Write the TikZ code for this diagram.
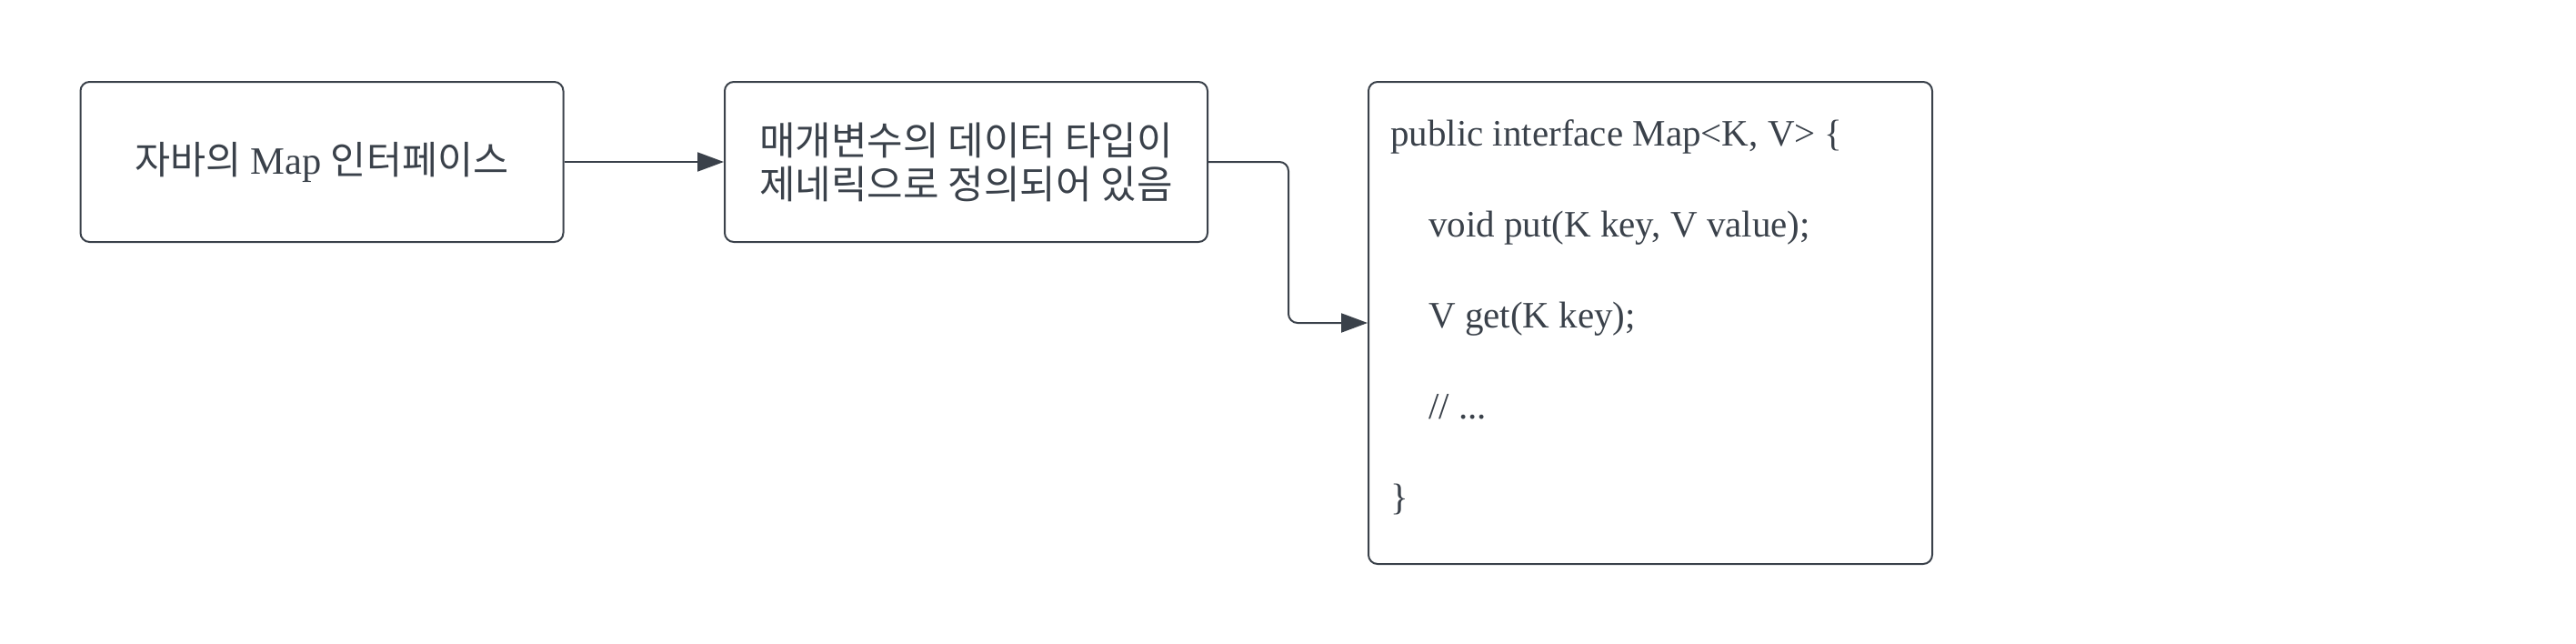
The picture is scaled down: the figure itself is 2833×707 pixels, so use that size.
\documentclass[tikz,border=0pt]{standalone}
\usepackage{fontspec}
\setmainfont{Liberation Serif}
\newfontfamily\kr{Noto Sans CJK KR}
\usetikzlibrary{arrows.meta}
\definecolor{ink}{HTML}{3A414A}
\tikzset{
  box/.style={draw=ink, line width=2pt, rounded corners=10pt, minimum width=#1, inner sep=0pt},
  conn/.style={draw=ink, line width=2pt, -{Triangle[length=29pt,width=21pt]}},
  code/.style={anchor=base west, inner sep=0pt, text=ink, font=\fontsize{41}{48}\selectfont}
}
\begin{document}
\begin{tikzpicture}[x=1pt,y=-1pt]
\useasboundingbox (0,0) rectangle (2833,707);
\node[box=531pt, minimum height=176pt, text=ink, font=\fontsize{42.5}{48}\selectfont] (b1) at (354,178) {\kr 자바의 \rmfamily Map \kr 인터페이스};
\node[box=531pt, minimum height=176pt, text=ink, align=center, font=\fontsize{43}{48}\selectfont\kr] (b2) at (1062.5,178) {매개변수의 데이터 타입이\\제네릭으로 정의되어 있음};
\node[box=620pt, minimum height=530pt] (b3) at (1815,355) {};
\node[code] (c1) at (1529,160) {public interface Map<K, V> \{};
\node[code] (c2) at (1571,260) {void put(K key, V value);};
\node[code] (c3) at (1571,360) {V get(K key);};
\node[code] (c4) at (1571,460) {// ...};
\node[code] (c5) at (1529,560) {\}};
\coordinate (bend) at (1417,178);
\draw[conn] (b1.east) -- (b2.west);
\draw[conn, rounded corners=10pt] (b2.east) -- (bend) |- (b3.west);
\end{tikzpicture}
\end{document}
